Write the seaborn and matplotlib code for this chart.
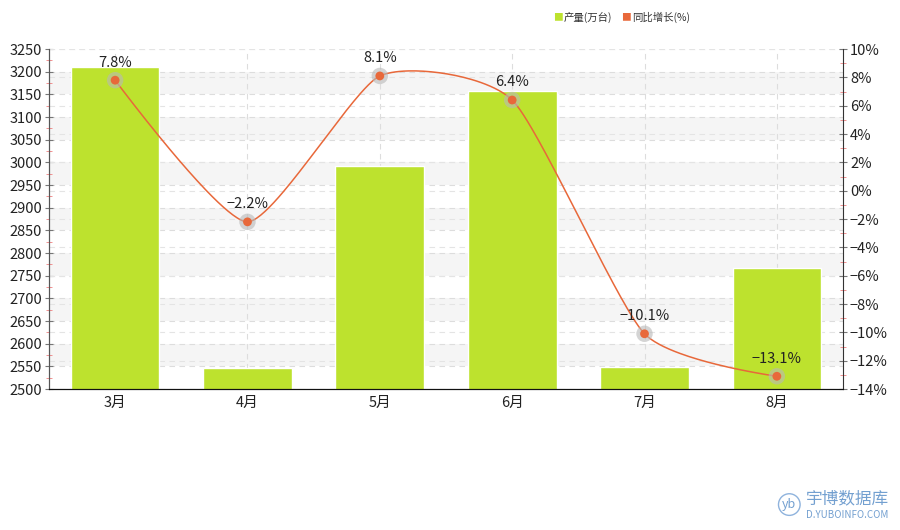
import numpy as np
import pandas as pd
import matplotlib
matplotlib.use("Agg")
import matplotlib.pyplot as plt
from matplotlib.ticker import MultipleLocator, FuncFormatter
import seaborn as sns

months = ["3月", "4月", "5月", "6月", "7月", "8月"]
output = [3210, 2547, 2993, 3158, 2549, 2768]       # 产量(万台)
growth = [7.8, -2.2, 8.1, 6.4, -10.1, -13.1]        # 同比增长(%)

BAR_COLOR = "#bde22e"
LINE_COLOR = "#e8683a"
LEFT_LIM = (2500, 3250)
RIGHT_LIM = (-14, 10)


def smooth_line(y, a=0.2, n=60):
    # bezier spline through the points, central-difference tangents,
    # control handles at a * spacing (end points use themselves as control)
    y = np.asarray(y, dtype=float)
    k = len(y)
    m = np.zeros(k)
    m[1:-1] = (y[2:] - y[:-2]) / 2
    xs, ys = [], []
    t = np.linspace(0, 1, n)
    for i in range(k - 1):
        x0, x3 = i, i + 1
        x1 = x0 + (a if i > 0 else 0)
        x2 = x3 - (a if i + 1 < k - 1 else 0)
        y0, y3 = y[i], y[i + 1]
        y1 = y0 + a * m[i]
        y2 = y3 - a * m[i + 1]
        b0, b1, b2, b3 = (1 - t) ** 3, 3 * (1 - t) ** 2 * t, 3 * (1 - t) * t ** 2, t ** 3
        xs.append(b0 * x0 + b1 * x1 + b2 * x2 + b3 * x3)
        ys.append(b0 * y0 + b1 * y1 + b2 * y2 + b3 * y3)
    return np.concatenate(xs), np.concatenate(ys)


sns.set_style("white")
plt.rcParams["font.family"] = ["Noto Sans CJK SC", "DejaVu Sans"]

fig = plt.figure(figsize=(9, 5.3), dpi=100)
ax = fig.add_axes([0.0544, 0.266, 0.8823, 0.6415])

# striped background
for i, lo in enumerate(range(LEFT_LIM[0], LEFT_LIM[1], 50)):
    if i % 2 == 1:
        ax.axhspan(lo, lo + 50, color="#f5f5f5", zorder=0, lw=0)

df = pd.DataFrame({"month": months, "output": output})
sns.barplot(data=df, x="month", y="output", color=BAR_COLOR, width=0.67,
            saturation=1, ax=ax, zorder=2)

ax.set_ylim(*LEFT_LIM)
ax.set_xlim(-0.5, 5.5)
ax.yaxis.set_major_locator(MultipleLocator(50))
ax.yaxis.set_minor_locator(MultipleLocator(25))
ax.set_xlabel("")
ax.set_ylabel("")
ax.set_axisbelow(True)
ax.grid(axis="y", which="major", ls=(0, (5, 4)), color="#dddddd", lw=0.8, zorder=1)
for x in range(len(months)):
    ax.axvline(x, ls=(0, (5, 4)), color="#dddddd", lw=0.8, zorder=1)
# right-axis grid lines, drawn behind the bars
for v in range(RIGHT_LIM[0], RIGHT_LIM[1] + 1, 2):
    yy = LEFT_LIM[0] + (v - RIGHT_LIM[0]) / (RIGHT_LIM[1] - RIGHT_LIM[0]) * (LEFT_LIM[1] - LEFT_LIM[0])
    ax.axhline(yy, ls=(0, (5, 4)), color="#e4e4e4", lw=0.8, zorder=1)

ax2 = ax.twinx()
ax2.set_ylim(*RIGHT_LIM)
ax2.yaxis.set_major_locator(MultipleLocator(2))
ax2.yaxis.set_minor_locator(MultipleLocator(1))
ax2.yaxis.set_major_formatter(FuncFormatter(lambda v, p: f"{v:.0f}%".replace("-", "\u2212")))
ax2.grid(False)

sx, sy = smooth_line(growth)
ax2.plot(sx, sy, color=LINE_COLOR, lw=1.1, zorder=3)
gdf = pd.DataFrame({"x": np.arange(len(months)), "g": growth})
sns.scatterplot(data=gdf, x="x", y="g", s=140, color="#b8b8b8", alpha=0.6,
                edgecolor="none", ax=ax2, zorder=4)
sns.scatterplot(data=gdf, x="x", y="g", s=40, color=LINE_COLOR,
                edgecolor="none", ax=ax2, zorder=5)
ax2.set_xlabel("")
ax2.set_ylabel("")
for x, g in enumerate(growth):
    ax2.text(x, g + 0.75, f"{g:.1f}%".replace("-", "\u2212"), ha="center", va="bottom",
             fontsize=10.5, color="#222222", zorder=6)
ax2.set_xlim(-0.5, 5.5)

for a in (ax, ax2):
    a.spines["top"].set_visible(False)
    a.spines["left"].set_color("#555555")
    a.spines["right"].set_color("#333333")
    a.spines["bottom"].set_color("#111111")
    a.tick_params(axis="y", which="major", direction="inout", length=6,
                  color="#777777", labelsize=10.5, labelcolor="#222222", pad=2)
    a.tick_params(axis="y", which="minor", direction="inout", length=4,
                  color="#f08080")
ax.tick_params(axis="x", direction="out", length=4, color="#777777",
               labelsize=10.5, labelcolor="#222222", pad=1)
ax.spines["right"].set_visible(False)

# legend
fig.text(0.614, 0.967, "\u25a0", color=BAR_COLOR, fontsize=7, va="center")
fig.text(0.626, 0.967, "产量(万台)", color="#333333", fontsize=7.5, va="center")
fig.text(0.690, 0.967, "\u25a0", color=LINE_COLOR, fontsize=7, va="center")
fig.text(0.702, 0.967, "同比增长(%)", color="#333333", fontsize=7.5, va="center")

# watermark
fig.text(0.942, 0.059, "宇博数据库", color="#5b8fc8", fontsize=12, ha="center",
         va="center", alpha=0.85)
fig.text(0.941, 0.029, "D.YUBOINFO.COM", color="#5b8fc8", fontsize=7,
         ha="center", va="center", alpha=0.85)
fig.text(0.877, 0.048, "yb", color="#5b8fc8", fontsize=9, ha="center", va="center",
         style="italic", alpha=0.85,
         bbox=dict(boxstyle="circle,pad=0.3", fc="none", ec="#8fb3dd", lw=1))

fig.savefig("out.png", dpi=100)
